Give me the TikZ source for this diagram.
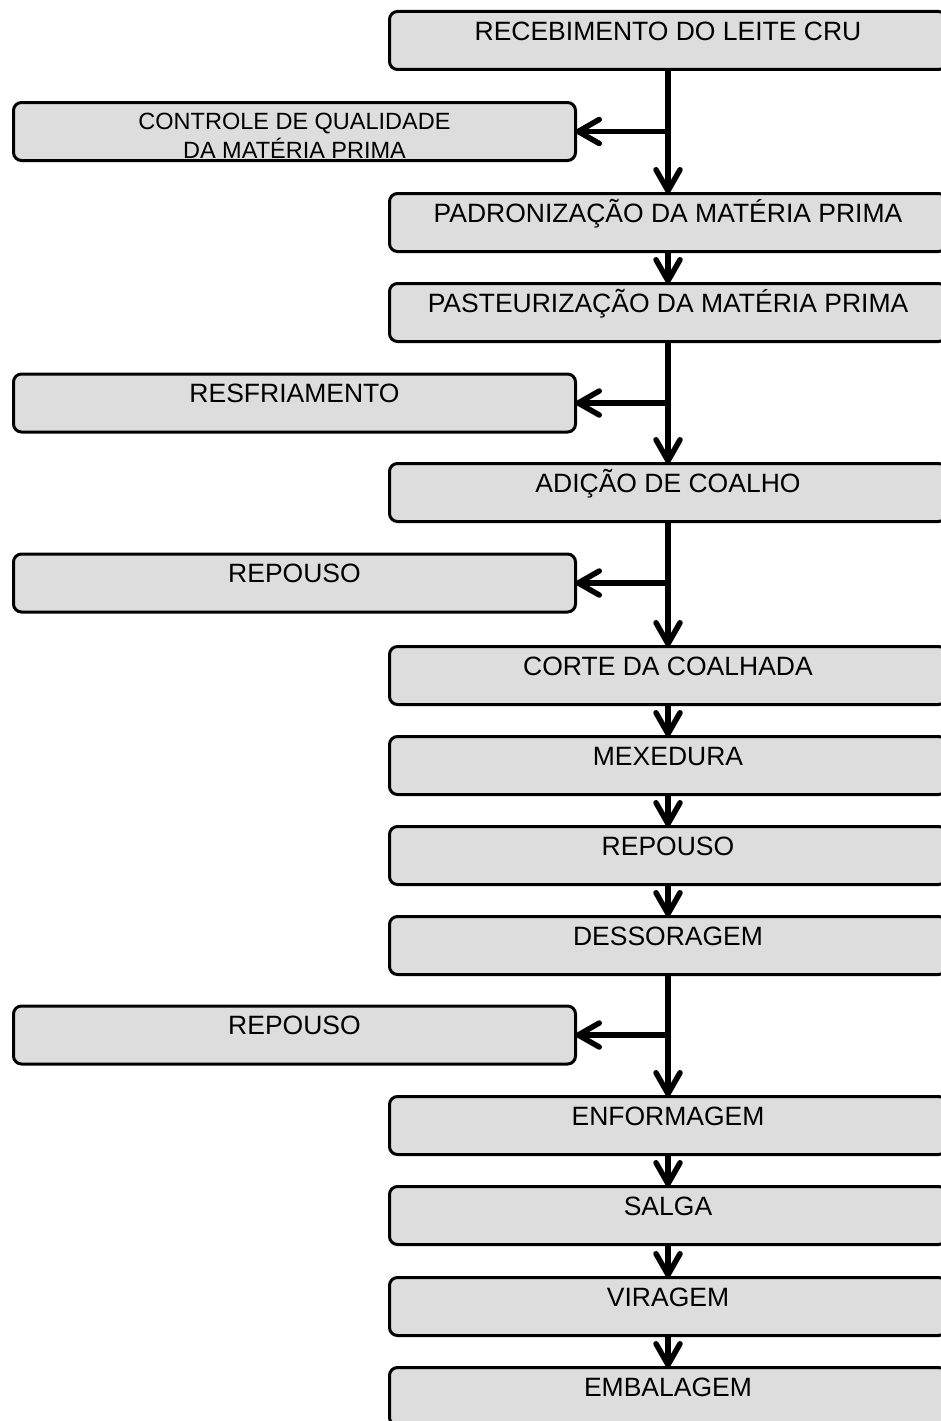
\documentclass[tikz,border=0pt]{standalone}
\usepackage{fontspec}
\setmainfont{Liberation Sans}
\usetikzlibrary{arrows.meta}
\definecolor{boxfill}{RGB}{221,221,221}
\begin{document}
\begin{tikzpicture}[x=1pt,y=-1pt,
  mainbox/.style={draw=black, line width=3pt, fill=boxfill, rounded corners=8pt,
    minimum width=557pt, minimum height=58pt, inner sep=0pt, outer sep=0pt},
  sidebox/.style={mainbox, minimum width=562pt},
  lbl/.style={inner sep=0pt, font=\fontsize{26.5}{32}\selectfont, text height=19pt, text depth=0pt},
  lbltwo/.style={inner sep=0pt, align=center, font=\fontsize{23.5}{28.5}\selectfont},
  flow/.style={line width=5.5pt, -{Straight Barb[length=21pt,width=24pt,round]}},
]
\useasboundingbox (0,0) rectangle (941,1421);
\clip (0,0) rectangle (941,1421);

% main column boxes
\node[mainbox] (m1)  at (668,40.5)   {};
\node[mainbox] (m2)  at (668,222.5)  {};
\node[mainbox] (m3)  at (668,312.5)  {};
\node[mainbox] (m4)  at (668,492.5)  {};
\node[mainbox] (m5)  at (668,675.5)  {};
\node[mainbox] (m6)  at (668,765.5)  {};
\node[mainbox] (m7)  at (668,855.5)  {};
\node[mainbox] (m8)  at (668,945.5)  {};
\node[mainbox] (m9)  at (668,1125.5) {};
\node[mainbox] (m10) at (668,1215.5) {};
\node[mainbox] (m11) at (668,1306.5) {};
\node[mainbox] (m12) at (668,1396.5) {};

\node[lbl] (t1)  at (668,31)   {RECEBIMENTO DO LEITE CRU};
\node[lbl] (t2)  at (668,213)  {PADRONIZAÇÃO DA MATÉRIA PRIMA};
\node[lbl] (t3)  at (668,303)  {PASTEURIZAÇÃO DA MATÉRIA PRIMA};
\node[lbl] (t4)  at (668,483)  {ADIÇÃO DE COALHO};
\node[lbl] (t5)  at (668,666)  {CORTE DA COALHADA};
\node[lbl] (t6)  at (668,756)  {MEXEDURA};
\node[lbl] (t7)  at (668,846)  {REPOUSO};
\node[lbl] (t8)  at (668,936)  {DESSORAGEM};
\node[lbl] (t9)  at (668,1116) {ENFORMAGEM};
\node[lbl] (t10) at (668,1206) {SALGA};
\node[lbl] (t11) at (668,1297) {VIRAGEM};
\node[lbl] (t12) at (668,1387) {EMBALAGEM};

% side boxes
\node[sidebox] (s1) at (294.5,131.5)  {};
\node[sidebox] (s2) at (294.5,403)    {};
\node[sidebox] (s3) at (294.5,583)    {};
\node[sidebox] (s4) at (294.5,1035)   {};

\node[lbltwo, anchor=north] (u1) at (294.5,113) {CONTROLE DE QUALIDADE\\DA MATÉRIA PRIMA};
\node[lbl] (u2) at (294.5,393)  {RESFRIAMENTO};
\node[lbl] (u3) at (294.5,573)  {REPOUSO};
\node[lbl] (u4) at (294.5,1025) {REPOUSO};

% branch points on the trunk
\coordinate (j1) at (m1.south |- s1.east);
\coordinate (j2) at (m3.south |- s2.east);
\coordinate (j3) at (m4.south |- s3.east);
\coordinate (j4) at (m8.south |- s4.east);

% trunk connectors
\draw[flow] (m1.south) -- (m2.north);
\draw[flow] (m2.south) -- (m3.north);
\draw[flow] (m3.south) -- (m4.north);
\draw[flow] (m4.south) -- (m5.north);
\draw[flow] (m5.south) -- (m6.north);
\draw[flow] (m6.south) -- (m7.north);
\draw[flow] (m7.south) -- (m8.north);
\draw[flow] (m8.south) -- (m9.north);
\draw[flow] (m9.south) -- (m10.north);
\draw[flow] (m10.south) -- (m11.north);
\draw[flow] (m11.south) -- (m12.north);

% branch connectors
\draw[flow] (j1) -- (s1.east);
\draw[flow] (j2) -- (s2.east);
\draw[flow] (j3) -- (s3.east);
\draw[flow] (j4) -- (s4.east);
\end{tikzpicture}
\end{document}
